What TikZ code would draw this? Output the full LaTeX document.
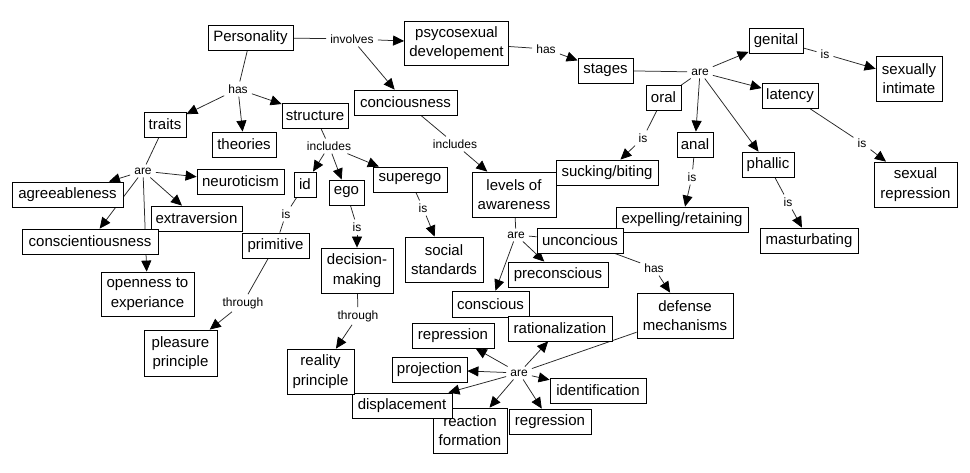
\documentclass[tikz,border=0pt]{standalone}
\usepackage{fontspec}
\setmainfont{Liberation Sans}
\usetikzlibrary{arrows.meta}
\pgfdeclarelayer{back}
\pgfdeclarelayer{edges}
\pgfsetlayers{back,edges,main}
\tikzset{
  box/.style={draw=black, line width=0.8pt, fill=white, align=center,
    font=\fontsize{15}{19.5}\selectfont, inner xsep=3pt, inner ysep=0pt,
    minimum height=25pt},
  lab/.style={font=\fontsize{12}{14}\selectfont, inner xsep=4pt, inner ysep=3pt},
  conn/.style={draw=black!85, line width=0.75pt},
  arr/.style={conn, -{Triangle[length=11pt,width=10pt,color=black]}}
}
\begin{document}
\begin{tikzpicture}[x=1pt,y=-1pt]
\begin{pgfonlayer}{back}
\fill[white] (0,0) rectangle (970,473);
\end{pgfonlayer}
\useasboundingbox (0,0) rectangle (970,473);
% concept boxes
\node[box, minimum width=85] (P) at (250.5,37.5) {Personality};
\node[box, minimum width=104, minimum height=44] (psy) at (456.5,43) {psycosexual\\developement};
\node[box, minimum width=55] (stages) at (605.5,70.5) {stages};
\node[box, minimum width=54] (genital) at (776,40.5) {genital};
\node[box, minimum width=66, minimum height=45] (sexint) at (909,78.5) {sexually\\intimate};
\node[box, minimum width=56] (latency) at (790,95.5) {latency};
\node[box, minimum width=83, minimum height=45] (sexrep) at (915.5,184.5) {sexual\\repression};
\node[box, minimum width=35] (oral) at (663.5,97.5) {oral};
\node[box, minimum width=102] (suck) at (607,172.5) {sucking/biting};
\node[box, minimum width=36] (anal) at (695,144.5) {anal};
\node[box, minimum width=132] (expel) at (682,219.5) {expelling/retaining};
\node[box, minimum width=52] (phallic) at (768,164.5) {phallic};
\node[box, minimum width=98] (mast) at (809,240.5) {masturbating};
\node[box, minimum width=103] (consc) at (405.5,102.5) {conciousness};
\node[box, minimum width=84, minimum height=45] (levels) at (514,194.5) {levels of\\awareness};
\node[box, minimum width=100] (precon) at (558,274.5) {preconscious};
\node[box, minimum width=86] (uncon) at (580,240.5) {unconcious};
\node[box, minimum width=77, minimum height=26] (conscious) at (490.5,304) {conscious};
\node[box, minimum width=96, minimum height=45] (defense) at (685,315.5) {defense\\mechanisms};
\node[box, minimum width=104] (ration) at (560,328.5) {rationalization};
\node[box, minimum width=82] (repr) at (453,335.5) {repression};
\node[box, minimum width=75] (proj) at (429.5,369.5) {projection};
\node[box, minimum width=96] (ident) at (598,390.5) {identification};
\node[box, minimum width=74, minimum height=45] (reac) at (470,430.5) {reaction\\formation};
\node[box, minimum width=100] (displ) at (402,405.5) {displacement};
\node[box, minimum width=82] (regr) at (550,421.5) {regression};
\node[box, minimum width=42] (traits) at (165,124.5) {traits};
\node[box, minimum width=64] (theories) at (244,144.5) {theories};
\node[box, minimum width=66] (structure) at (315,115.5) {structure};
\node[box, minimum width=87] (neuro) at (240.5,181.5) {neuroticism};
\node[box, minimum width=111] (agree) at (67.5,194.5) {agreeableness};
\node[box, minimum width=91] (extra) at (196.5,218.5) {extraversion};
\node[box, minimum width=136] (consci) at (90,241.5) {conscientiousness};
\node[box, minimum width=93, minimum height=44] (open) at (147.5,294) {openness to\\experiance};
\node[box, minimum width=22] (id) at (305,184.5) {id};
\node[box, minimum width=35] (ego) at (346.5,192.5) {ego};
\node[box, minimum width=74] (superego) at (410,179.5) {superego};
\node[box, minimum width=67] (primitive) at (275.5,245.5) {primitive};
\node[box, minimum width=73, minimum height=46] (pleas) at (180.5,353) {pleasure\\principle};
\node[box, minimum width=72, minimum height=45] (decis) at (357,270.5) {decision-\\making};
\node[box, minimum width=67, minimum height=45] (real) at (320.5,371.5) {reality\\principle};
\node[box, minimum width=78, minimum height=45] (social) at (444,259.5) {social\\standards};
% linking phrases
\node[lab] (l1) at (352,39) {involves};
\node[lab] (l2) at (238,89) {has};
\node[lab] (l3) at (546,49) {has};
\node[lab] (l4) at (700,72) {are};
\node[lab] (l5) at (825,54) {is};
\node[lab] (l6) at (862,143) {is};
\node[lab] (l7) at (643,138) {is};
\node[lab] (l8) at (692,177) {is};
\node[lab] (l9) at (788,202) {is};
\node[lab] (l10) at (455,144) {includes};
\node[lab] (l11) at (516,235) {are};
\node[lab] (l12) at (654,268) {has};
\node[lab] (l13) at (519,373) {are};
\node[lab] (l14) at (329,146) {includes};
\node[lab] (l15) at (143,171) {are};
\node[lab] (l16) at (286,214) {is};
\node[lab] (l17) at (243,303) {through};
\node[lab] (l18) at (357,227) {is};
\node[lab] (l19) at (358,316) {through};
\node[lab] (l20) at (423,208) {is};
% connectors
\begin{pgfonlayer}{edges}
\draw[conn] (P) -- (l1);
\draw[arr] (l1) -- (psy);
\draw[arr] (l1) -- (consc);
\draw[conn] (P) -- (l2);
\draw[arr] (l2) -- (traits);
\draw[arr] (l2) -- (theories);
\draw[arr] (l2) -- (structure);
\draw[conn] (psy) -- (l3);
\draw[arr] (l3) -- (stages);
\draw[conn] (stages) -- (l4);
\draw[arr] (l4) -- (genital);
\draw[arr] (l4) -- (latency);
\draw[conn] (l4) -- (oral);
\draw[arr] (l4) -- (anal);
\draw[arr] (l4) -- (phallic);
\draw[conn] (genital) -- (l5);
\draw[arr] (l5) -- (sexint);
\draw[conn] (latency) -- (l6);
\draw[arr] (l6) -- (sexrep);
\draw[conn] (oral) -- (l7);
\draw[arr] (l7) -- (suck);
\draw[conn] (anal) -- (l8);
\draw[arr] (l8) -- (expel);
\draw[conn] (phallic) -- (l9);
\draw[arr] (l9) -- (mast);
\draw[conn] (consc) -- (l10);
\draw[arr] (l10) -- (levels);
\draw[conn] (levels) -- (l11);
\draw[conn] (l11) -- (uncon);
\draw[arr] (l11) -- (precon);
\draw[arr] (l11) -- (conscious);
\draw[conn] (uncon) -- (l12);
\draw[arr] (l12) -- (defense);
\draw[conn] (defense) -- (l13);
\draw[arr] (l13) -- (repr);
\draw[arr] (l13) -- (proj);
\draw[arr] (l13) -- (displ);
\draw[arr] (l13) -- (reac);
\draw[arr] (l13) -- (regr);
\draw[arr] (l13) -- (ident);
\draw[arr] (l13) -- (ration);
\draw[conn] (structure) -- (l14);
\draw[arr] (l14) -- (id);
\draw[arr] (l14) -- (ego);
\draw[arr] (l14) -- (superego);
\draw[conn] (traits) -- (l15);
\draw[arr] (l15) -- (neuro);
\draw[arr] (l15) -- (agree);
\draw[arr] (l15) -- (extra);
\draw[arr] (l15) -- (consci);
\draw[arr] (l15) -- (open);
\draw[conn] (id) -- (l16);
\draw[conn] (l16) -- (primitive);
\draw[conn] (primitive) -- (l17);
\draw[arr] (l17) -- (pleas);
\draw[conn] (ego) -- (l18);
\draw[arr] (l18) -- (decis);
\draw[conn] (decis) -- (l19);
\draw[arr] (l19) -- (real);
\draw[conn] (superego) -- (l20);
\draw[arr] (l20) -- (social);
\end{pgfonlayer}
\end{tikzpicture}
\end{document}
